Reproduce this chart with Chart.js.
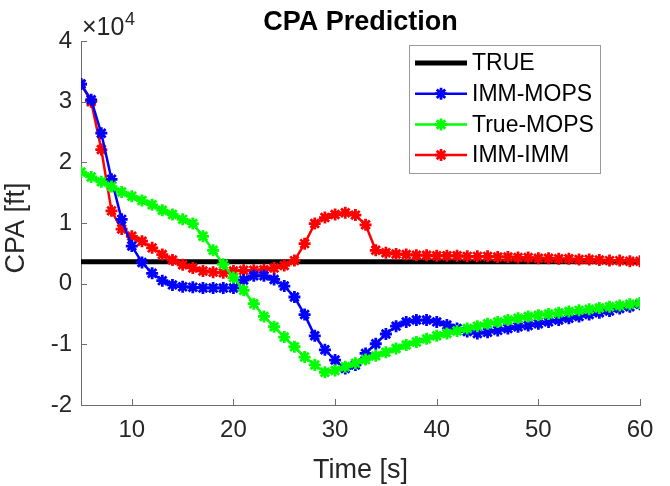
<!DOCTYPE html>
<html>
<head>
<meta charset="utf-8">
<script src="https://cdn.jsdelivr.net/npm/chart.js@4/dist/chart.umd.min.js"></script>
<style>
  html, body { margin: 0; padding: 0; background: #fff; }
  #wrap { width: 670px; height: 486px; }
</style>
</head>
<body>
<div id="wrap"><canvas id="grafico" width="670" height="486"></canvas></div>
<script>
// tempo [s]
const tempo = [5,6,7,8,9,10,11,12,13,14,15,16,17,18,19,20,21,22,23,24,25,26,27,28,29,30,31,32,
  33,34,35,36,37,38,39,40,41,42,43,44,45,46,47,48,49,50,51,52,53,54,55,56,57,58,59,60];

// CPA [ft]
const immMops = [32900,30300,24800,17200,10600,6200,3500,1700,500,-200,-500,-600,-700,-700,-700,-700,
  600,1300,1300,700,-400,-2200,-5100,-8600,-10900,-12600,-14000,-13400,-11500,-9900,-8300,-7000,
  -6300,-6000,-6000,-6300,-6800,-7400,-7900,-8200,-8000,-7700,-7400,-7100,-6900,-6600,-6300,-6000,
  -5700,-5400,-5100,-4800,-4500,-4100,-3800,-3400];
const trueMops = [18400,17600,16800,16000,15100,14400,13700,13000,12100,11400,10600,9900,7800,5500,
  3200,1000,-1100,-3300,-5400,-7100,-8800,-10400,-12100,-13400,-14600,-14300,-13700,-13100,-12500,
  -11900,-11300,-10700,-10100,-9600,-9100,-8600,-8200,-7800,-7400,-7000,-6600,-6300,-6000,-5700,
  -5400,-5200,-5000,-4800,-4600,-4400,-4200,-4000,-3800,-3600,-3400,-3200];
const immImm = [32900,30000,22100,12000,9000,7800,7000,5900,4800,3900,3100,2600,2100,1900,1800,2100,
  2200,2200,2300,2600,3000,3800,6600,9900,10900,11400,11700,11300,9700,5500,5100,4900,4800,4700,
  4700,4600,4600,4600,4500,4500,4500,4400,4400,4300,4300,4200,4200,4100,4100,4000,4000,3900,3800,
  3800,3700,3700];
const tempoTrue = [5, 60];
const cpaTrue = [3600, 3600];

const xTicks = [10,20,30,40,50,60];
const yTicks = [-20000,-10000,0,10000,20000,30000,40000];

const fonte = '"Liberation Sans", Arial, Helvetica, sans-serif';
const corTexto = '#262626';
const corEixo = '#6e6e6e';

function pontos(xs, ys) {
  return xs.map((x, i) => ({x: x, y: ys[i]}));
}

function serie(label, cor, xs, ys, ordem) {
  return {
    label, data: pontos(xs, ys), borderColor: cor, backgroundColor: cor,
    borderWidth: 2.5, pointStyle: 'star', pointRadius: 6, pointBorderWidth: 2.8,
    pointBackgroundColor: cor, pointBorderColor: cor, order: ordem, tension: 0
  };
}

// ticks para dentro, textos e legenda (estilo MATLAB)
const extras = {
  id: 'extras',
  afterDraw(chart) {
    const ctx = chart.ctx;
    const a = chart.chartArea;
    const sx = chart.scales.x, sy = chart.scales.y;
    ctx.save();
    ctx.strokeStyle = corEixo;
    ctx.lineWidth = 1;
    xTicks.forEach(v => {
      const p = Math.round(sx.getPixelForValue(v)) + 0.5;
      ctx.beginPath(); ctx.moveTo(p, a.bottom); ctx.lineTo(p, a.bottom - 6); ctx.stroke();
    });
    yTicks.forEach(v => {
      const p = Math.round(sy.getPixelForValue(v)) + 0.5;
      ctx.beginPath(); ctx.moveTo(a.left, p); ctx.lineTo(a.left + 6, p); ctx.stroke();
    });

    ctx.fillStyle = '#000';
    ctx.textAlign = 'center';
    ctx.textBaseline = 'alphabetic';
    ctx.font = 'bold 27px ' + fonte;
    ctx.fillText('CPA Prediction', (a.left + a.right) / 2, 30);

    ctx.fillStyle = corTexto;
    ctx.textAlign = 'left';
    ctx.font = '25px ' + fonte;
    ctx.fillText('\u00d710', 82, 35);
    ctx.font = '18px ' + fonte;
    ctx.fillText('4', 125, 25);

    ctx.font = '27px ' + fonte;
    ctx.textAlign = 'center';
    ctx.fillText('Time [s]', (a.left + a.right) / 2, 478);
    ctx.save();
    ctx.translate(24, (a.top + a.bottom) / 2 + 5);
    ctx.rotate(-Math.PI / 2);
    ctx.fillText('CPA [ft]', 0, 0);
    ctx.restore();

    // legenda
    const lx = 409, ly = 45, lw = 191, lh = 128;
    ctx.fillStyle = '#fff';
    ctx.fillRect(lx, ly, lw, lh);
    ctx.strokeStyle = '#9a9a9a';
    ctx.lineWidth = 1;
    ctx.strokeRect(lx + 0.5, ly + 0.5, lw, lh);
    const ordemLeg = ['TRUE', 'IMM-MOPS', 'True-MOPS', 'IMM-IMM'];
    ctx.font = '23px ' + fonte;
    ctx.textAlign = 'left';
    ctx.textBaseline = 'middle';
    ordemLeg.forEach((nome, i) => {
      const ds = chart.data.datasets.find(d => d.label === nome);
      const y = 63 + i * 30.7;
      ctx.strokeStyle = ds.borderColor;
      ctx.fillStyle = ds.borderColor;
      ctx.lineWidth = ds.borderWidth;
      ctx.beginPath(); ctx.moveTo(415, y); ctx.lineTo(467, y); ctx.stroke();
      if (ds.pointRadius > 0) {
        ctx.lineWidth = ds.pointBorderWidth;
        Chart.helpers.drawPoint(ctx, {pointStyle: 'star', radius: ds.pointRadius, borderWidth: ds.pointBorderWidth}, 441, y);
      }
      ctx.fillStyle = '#000';
      ctx.fillText(nome, 472, y + 1);
    });
    ctx.restore();
  }
};

new Chart(document.getElementById('grafico'), {
  type: 'line',
  data: {
    datasets: [
      {label: 'TRUE', data: pontos(tempoTrue, cpaTrue), borderColor: '#000', backgroundColor: '#000',
        borderWidth: 5, pointRadius: 0, order: 3},
      serie('IMM-MOPS', '#0000ff', tempo, immMops, 1),
      serie('True-MOPS', '#00ff00', tempo, trueMops, 0),
      serie('IMM-IMM', '#ff0000', tempo, immImm, 2)
    ]
  },
  options: {
    responsive: false,
    animation: false,
    devicePixelRatio: 1,
    layout: {padding: {left: 0, top: 41, right: 30, bottom: 0}},
    plugins: {legend: {display: false}, tooltip: {enabled: false}, title: {display: false}},
    scales: {
      x: {
        type: 'linear', min: 5, max: 60,
        afterBuildTicks: s => { s.ticks = xTicks.map(v => ({value: v})); },
        afterFit: s => { s.height = 81; },
        grid: {display: false, drawTicks: false},
        border: {display: true, color: corEixo, width: 1},
        ticks: {color: corTexto, font: {family: fonte, size: 24}, padding: 11, maxRotation: 0}
      },
      y: {
        type: 'linear', min: -20000, max: 40000,
        afterBuildTicks: s => { s.ticks = yTicks.map(v => ({value: v})); },
        afterFit: s => { s.width = 81; },
        grid: {display: false, drawTicks: false},
        border: {display: true, color: corEixo, width: 1},
        ticks: {color: corTexto, font: {family: fonte, size: 24}, padding: 9,
          callback: v => String(v / 10000)}
      }
    }
  },
  plugins: [extras]
});
</script>
</body>
</html>
